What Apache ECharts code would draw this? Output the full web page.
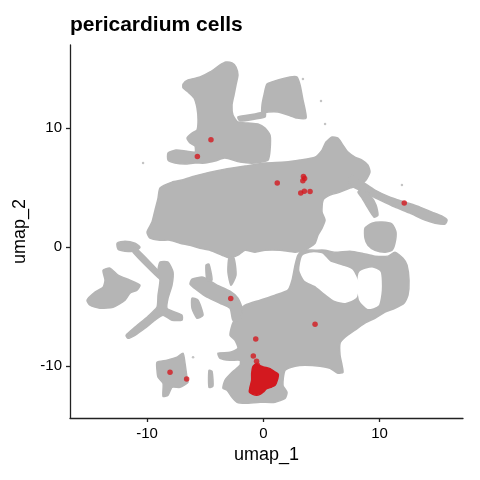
<!DOCTYPE html>
<html>
<head>
<meta charset="utf-8">
<script src="https://cdn.jsdelivr.net/npm/echarts@6/dist/echarts.min.js"></script>
<style>html,body{margin:0;padding:0;background:#fff}#c{width:480px;height:480px}</style>
</head>
<body>
<div id="c"></div>
<script>
// ---- axis settings / tick labels ----
const xTicks = [-10, 0, 10];
const yTicks = [-10, 0, 10];
const xRange = [-16.62, 17.17];
const yRange = [-14.38, 16.96];

// ---- grey cell regions (outlines in umap coordinates) ----
const clusterTopLeft = [[-6.90,13.68],[-6.47,14.02],[-5.44,14.27],[-4.58,14.69],[-3.72,15.28],[-3.21,15.53],[-2.69,15.45],[-2.35,15.11],[-2.18,14.44],[-2.35,13.60],[-2.52,12.76],[-2.69,11.92],[-2.61,11.08],[-2.18,10.49],[-1.32,10.40],[-0.46,10.32],[0.15,9.98],[0.58,9.39],[0.58,8.13],[0.40,7.29],[-0.71,7.04],[-2.00,7.12],[-3.30,7.46],[-4.15,7.21],[-5.01,7.04],[-5.87,7.04],[-6.73,6.96],[-7.59,7.04],[-8.19,7.29],[-8.19,7.88],[-7.51,8.13],[-6.65,8.05],[-5.87,7.96],[-5.87,8.47],[-6.30,8.72],[-6.56,9.14],[-6.13,9.56],[-5.70,9.81],[-5.61,10.66],[-5.70,11.67],[-5.96,12.51],[-6.47,13.01],[-6.90,13.35]];
const clusterTopRight = [[0.32,13.68],[1.26,14.02],[2.30,14.27],[2.90,14.27],[3.16,13.60],[3.41,12.34],[3.68,10.82],[2.90,10.82],[2.12,11.08],[1.26,11.33],[0.40,11.33],[-0.11,11.24],[-0.11,11.92],[0.06,12.76]];
const bridgeTop = [[-2.18,10.91],[-0.71,11.16],[0.15,11.33],[0.15,10.91],[-0.71,10.74],[-2.00,10.57]];
const clusterCentre = [[-8.88,4.94],[-7.85,5.44],[-6.99,5.61],[-5.87,5.95],[-4.58,6.28],[-3.30,6.53],[-1.57,6.79],[0.15,7.04],[1.87,7.12],[3.16,7.29],[4.45,7.54],[5.05,8.13],[5.39,8.81],[5.91,9.23],[6.42,9.14],[6.85,8.55],[7.28,7.96],[7.88,7.54],[8.49,7.29],[9.00,6.87],[9.17,6.28],[8.83,5.61],[8.31,5.19],[7.45,4.94],[6.60,4.60],[5.73,4.35],[5.14,3.93],[5.05,2.92],[5.31,2.25],[5.05,1.57],[4.70,0.98],[4.45,0.31],[3.59,-0.28],[2.73,-0.45],[1.44,-0.28],[0.15,-0.28],[-0.71,-0.45],[-1.57,-0.28],[-2.18,-0.70],[-2.86,-0.95],[-3.55,-0.70],[-4.58,-0.28],[-5.44,-0.11],[-6.30,0.14],[-7.16,0.31],[-8.02,0.56],[-8.88,0.56],[-9.74,0.73],[-10.00,1.24],[-9.57,2.08],[-9.31,3.09],[-9.05,4.10]];
const tailRight = [[7.45,6.03],[8.31,5.61],[9.60,4.77],[10.89,4.18],[12.18,3.76],[13.47,3.34],[14.51,2.92],[15.37,2.58],[15.80,2.25],[15.63,1.91],[14.77,1.99],[13.90,2.25],[12.61,2.83],[11.32,3.34],[10.03,3.93],[9.17,4.35],[8.31,4.77],[7.45,5.19]];
const tailBranch = [[8.49,4.94],[9.17,4.35],[9.69,3.51],[9.86,2.67],[9.52,2.50],[9.00,3.25],[8.49,4.10],[8.14,4.60]];
const islandRight = [[8.74,1.57],[9.35,1.99],[10.21,2.08],[11.07,1.91],[11.41,1.24],[11.32,0.31],[11.07,-0.28],[10.46,-0.45],[9.60,-0.28],[9.00,0.14],[8.74,0.73]];
const clusterLower = [[-2.26,-5.49],[-1.57,-4.90],[-0.28,-4.48],[1.01,-4.06],[2.12,-3.64],[2.47,-2.80],[2.73,-1.54],[2.98,-0.70],[3.41,-0.28],[4.45,-0.28],[5.31,-0.28],[6.16,-0.45],[7.45,-0.36],[8.49,-0.53],[9.60,-0.78],[10.72,-0.78],[11.32,-0.45],[12.01,-0.95],[12.36,-1.54],[12.53,-2.80],[12.44,-4.06],[12.10,-4.74],[11.32,-5.16],[10.46,-5.49],[9.60,-6.00],[8.74,-6.41],[7.88,-7.00],[7.03,-7.59],[6.60,-8.10],[6.60,-9.11],[6.77,-9.95],[6.85,-10.54],[6.42,-10.62],[5.73,-10.20],[4.88,-10.03],[3.59,-9.95],[2.73,-10.03],[1.87,-10.37],[1.69,-11.63],[2.04,-12.22],[1.87,-12.73],[1.01,-13.06],[-0.28,-13.06],[-1.57,-13.15],[-2.26,-13.06],[-2.69,-12.64],[-3.12,-12.05],[-3.47,-11.88],[-3.30,-11.21],[-2.69,-10.54],[-2.00,-9.95],[-2.00,-9.53],[-2.86,-9.53],[-3.72,-9.36],[-3.90,-8.94],[-2.86,-8.86],[-2.18,-8.52],[-2.43,-7.85],[-2.86,-7.43],[-2.69,-6.58],[-2.43,-6.00]];
const fishLeft = [[-15.16,-4.48],[-14.47,-3.81],[-13.78,-3.39],[-13.61,-2.80],[-13.78,-1.96],[-13.18,-1.79],[-12.49,-2.38],[-11.46,-2.80],[-10.60,-3.22],[-10.86,-3.64],[-11.46,-3.89],[-11.89,-4.48],[-12.92,-5.07],[-14.04,-5.16],[-14.90,-4.90]];
const blobLeft = [[-12.57,0.31],[-11.89,0.48],[-11.03,0.31],[-10.60,-0.03],[-11.03,-0.36],[-11.89,-0.36],[-12.49,-0.19]];
const strandLeft = [[-11.20,-0.11],[-10.86,-0.19],[-8.71,-2.38],[-8.88,-2.72],[-11.20,-0.45]];
const treeLeft = [[-8.88,-1.29],[-8.19,-1.29],[-7.76,-2.13],[-7.85,-3.22],[-8.19,-4.31],[-8.28,-5.16],[-7.59,-5.49],[-6.99,-5.74],[-6.99,-6.16],[-7.85,-6.16],[-8.62,-5.74],[-9.31,-6.16],[-10.17,-6.84],[-11.03,-7.43],[-11.63,-7.68],[-11.80,-7.43],[-11.03,-6.75],[-9.91,-5.83],[-9.14,-5.07],[-9.05,-4.06],[-8.88,-2.80],[-9.05,-1.96]];
const bandMid = [[-6.13,-2.72],[-5.18,-2.55],[-3.98,-3.22],[-2.86,-3.73],[-2.18,-4.31],[-1.83,-5.16],[-2.00,-6.16],[-2.61,-6.16],[-2.86,-5.16],[-3.72,-4.74],[-4.84,-4.23],[-5.70,-3.64],[-6.30,-3.14]];
const spikeA = [[-4.93,-1.54],[-4.67,-1.46],[-4.41,-2.80],[-4.84,-2.80]];
const spikeB = [[-2.95,-0.95],[-2.52,-0.95],[-2.35,-2.38],[-2.78,-3.22],[-3.04,-2.13]];
const bitsMid = [[-6.13,-4.31],[-5.61,-4.48],[-5.18,-5.74],[-5.70,-6.00],[-6.13,-5.16]];
const islandLowerLeft = [[-9.14,-9.70],[-8.28,-9.53],[-7.42,-9.28],[-6.90,-8.94],[-6.73,-9.78],[-6.56,-10.96],[-6.47,-11.38],[-7.16,-11.80],[-7.85,-11.80],[-8.19,-12.47],[-8.62,-12.56],[-8.62,-11.46],[-9.05,-10.96],[-9.14,-10.37]];
const stickLower = [[-4.67,-10.37],[-4.41,-10.45],[-4.33,-11.71],[-4.67,-11.80]];

// white gaps inside the lower cluster
const gapArcInner = [[8.31,-2.13],[9.35,-1.79],[10.03,-2.13],[10.12,-3.64],[9.86,-4.90],[9.00,-5.16],[8.31,-4.48],[8.14,-3.22]];
const gapArcLeft = [[3.41,-0.78],[4.19,-0.53],[5.05,-0.61],[5.73,-1.29],[6.77,-1.62],[7.63,-1.96],[8.14,-3.05],[7.97,-4.23],[7.03,-4.65],[6.16,-4.48],[5.31,-3.89],[4.45,-3.22],[3.59,-2.80],[3.16,-1.96]];

// isolated grey cells
const greySpecks = [[-10.34,7.04],[3.41,14.10],[4.96,12.25],[5.31,10.32],[-6.04,-9.28],[11.92,5.19]];

// ---- highlighted pericardium cells ----
const redBlob = [[-0.57,-9.87],[0.00,-10.09],[0.58,-10.23],[1.01,-10.51],[1.29,-10.71],[1.20,-11.21],[1.01,-11.63],[0.72,-11.77],[0.29,-11.91],[0.00,-12.20],[-0.28,-12.39],[-0.57,-12.47],[-0.91,-12.39],[-1.20,-12.20],[-1.14,-11.77],[-1.00,-11.21],[-1.00,-10.65],[-0.91,-10.09],[-0.71,-9.87]];
const redCells = [[-4.50,9.00],[-5.67,7.60],[1.20,5.36],[3.45,5.92],[3.55,5.75],[3.40,5.55],[3.22,4.52],[3.53,4.68],[4.02,4.66],[12.12,3.68],[-2.80,-4.34],[4.45,-6.50],[-0.65,-7.74],[-0.86,-9.17],[-0.58,-9.61],[-0.50,-9.95],[-8.02,-10.54],[-6.59,-11.10]];

const greyRegions = [clusterTopLeft, clusterTopRight, bridgeTop, clusterCentre, tailRight, tailBranch, islandRight, clusterLower, fishLeft, blobLeft, strandLeft, treeLeft, bandMid, spikeA, spikeB, bitsMid, islandLowerLeft, stickLower];
const gapRegions = [gapArcInner, gapArcLeft];
const redRegions = [redBlob];

const GREY = '#b5b5b5';
const RED = '#d3191f';
const FONT = '"Liberation Sans", Arial, Helvetica, sans-serif';

function polySeries(regions, fill, z) {
  return {
    type: 'custom',
    z: z,
    silent: true,
    clip: true,
    data: regions.map((poly, i) => [poly[0][0], poly[0][1], i]),
    encode: { x: 0, y: 1 },
    renderItem: function (params, api) {
      const poly = regions[api.value(2)];
      const pts = poly.map(p => api.coord(p));
      return {
        type: 'polygon',
        shape: { points: pts, smooth: 0.2 },
        style: { fill: fill, stroke: fill, lineWidth: 1.5 }
      };
    }
  };
}

const chart = echarts.init(document.getElementById('c'), null, { renderer: 'canvas' });
chart.setOption({
  animation: false,
  backgroundColor: '#fff',
  title: {
    text: 'pericardium cells',
    left: 70, top: 15, padding: 0,
    textStyle: { fontFamily: FONT, fontWeight: 'bold', fontSize: 21, color: '#000' }
  },
  grid: { left: 70, right: 17, top: 45, bottom: 62, containLabel: false, outerBoundsMode: 'none' },
  xAxis: {
    type: 'value', min: xRange[0], max: xRange[1],
    name: 'umap_1', nameLocation: 'middle', nameGap: 27,
    nameTextStyle: { fontFamily: FONT, fontSize: 18, color: '#000' },
    axisLine: { show: true, onZero: false, lineStyle: { color: '#222', width: 1.3 } },
    axisTick: { show: true, length: 4, customValues: xTicks, lineStyle: { color: '#222', width: 1.3 } },
    axisLabel: { customValues: xTicks, margin: 8, fontFamily: FONT, fontSize: 15, color: '#000' },
    splitLine: { show: false }
  },
  yAxis: {
    type: 'value', min: yRange[0], max: yRange[1],
    name: 'umap_2', nameLocation: 'middle', nameGap: 40,
    nameTextStyle: { fontFamily: FONT, fontSize: 18, color: '#000' },
    axisLine: { show: true, onZero: false, lineStyle: { color: '#222', width: 1.3 } },
    axisTick: { show: true, length: 4, customValues: yTicks, lineStyle: { color: '#222', width: 1.3 } },
    axisLabel: { customValues: yTicks, margin: 8, fontFamily: FONT, fontSize: 15, color: '#000' },
    splitLine: { show: false }
  },
  series: [
    polySeries(greyRegions, GREY, 1),
    polySeries(gapRegions, '#ffffff', 2),
    { type: 'scatter', z: 3, silent: true, data: greySpecks, symbolSize: 2.5, itemStyle: { color: GREY } },
    polySeries(redRegions, RED, 4),
    { type: 'scatter', z: 5, silent: true, data: redCells, symbolSize: 5.5, itemStyle: { color: RED } }
  ]
});
</script>
</body>
</html>
